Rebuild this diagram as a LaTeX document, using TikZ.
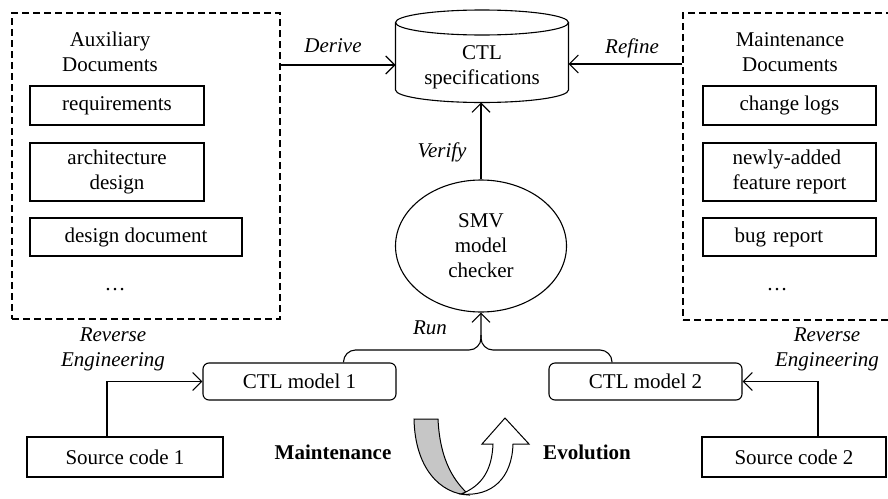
\documentclass[tikz,border=0pt]{standalone}
\usepackage{fontspec}
\setmainfont{Liberation Serif}
\usetikzlibrary{arrows.meta,shapes.geometric,calc}
\begin{document}
\begin{tikzpicture}[x=1pt,y=-1pt,line width=1.1pt,
  every node/.style={font=\fontsize{21}{25}\selectfont},
  docbox/.style={draw,rectangle,inner sep=0pt,align=center},
  rdocbox/.style={draw,rectangle,inner sep=0pt,minimum width=173pt,align=left},
  dashbox/.style={draw,rectangle,dash pattern=on 7pt off 4pt,inner sep=0pt},
  modelbox/.style={draw,rectangle,rounded corners=6pt,inner sep=0pt},
  lbl/.style={font=\fontsize{21}{25}\selectfont\itshape,align=center},
  bold/.style={font=\fontsize{21}{25}\selectfont\bfseries},
  arr/.style={-{Straight Barb[length=9pt,width=18pt,line width=1.1pt]}}]
\clip (0,0) rectangle (888,498);
\fill[white] (0,0) rectangle (888,498);

% dashed containers
\node[dashbox,minimum width=268pt,minimum height=306pt] (aux) at (146,166) {};
\node[dashbox,minimum width=210pt,minimum height=307pt] (maint) at (788,166.5) {};

\node[align=center] (auxt) at (110,52) {Auxiliary\\Documents};
\node[align=center] (maintt) at (790,52) {Maintenance\\Documents};

\node[docbox,minimum width=174pt,minimum height=39pt] (req) at (117,105.5) {requirements};
\node[docbox,minimum width=174pt,minimum height=58pt] (arch) at (117,172) {architecture\\design};
\node[docbox,minimum width=212pt,minimum height=38pt] (desdoc) at (136,237) {design document};
\node (dotsl) at (115,290) {\ldots};

\node[rdocbox,minimum height=39pt] (chg) at (789.5,105.5) {change logs};
\node[rdocbox,minimum height=58pt] (newly) at (789.5,172) {newly-added\\feature report};
\node[rdocbox,minimum height=38pt,inner xsep=31.5pt,text width=110pt] (bug) at (789.5,237) {bug report};
\node (dotsr) at (777,290) {\ldots};

% cylinder
\draw (482,22.5) ellipse [x radius=86.5pt,y radius=12.5pt];
\draw (395.5,22.5) -- (395.5,90) arc[start angle=180,end angle=360,x radius=86.5pt,y radius=12.5pt] -- (568.5,22.5);
\node[align=center] (spec) at (482,67) {CTL\\specifications};
\coordinate (specL) at (395.5,65);
\coordinate (specR) at (568.5,64);
\coordinate (specB) at (481,102.5);

% model checker
\node[draw,ellipse,minimum width=171pt,minimum height=132pt,inner sep=0pt,align=center] (smv) at (481,246) {SMV\\model\\checker};

% models and sources
\node[modelbox,minimum width=193pt,minimum height=37pt] (m1) at (299.5,381.5) {CTL model 1};
\node[modelbox,minimum width=193pt,minimum height=37pt] (m2) at (645.5,381.5) {CTL model 2};
\node[docbox,minimum width=196pt,minimum height=40pt] (sc1) at (125,457) {Source code 1};
\node[docbox,minimum width=184pt,minimum height=40pt] (sc2) at (794,457) {Source code 2};

% connectors
\draw[arr] (aux.east |- specL) -- (specL);
\draw[arr] (maint.west |- specR) -- (specR);
\draw[arr] (smv.north) -- (specB);

\coordinate (j) at (481,350);
\draw[arr,rounded corners=12pt] ($(m1.north)+(44,0)$) |- (j) -- (smv.south);
\draw[rounded corners=12pt] ($(m2.north)+(-33.5,0)$) |- (j) -- (481,335);

\draw[arr] ($(sc1.north)+(-18,0)$) |- (m1.west);
\draw[arr] ($(sc2.north)+(24,0)$) |- (m2.east);

% labels
\node[lbl] (lderive) at (333,46) {Derive};
\node[lbl] (lrefine) at (632,48) {Refine};
\node[lbl] (lverify) at (442,152) {Verify};
\node[lbl] (lrun) at (430,328) {Run};
\node[lbl] (lre1) at (113,349) {Reverse\\Engineering};
\node[lbl] (lre2) at (827,349) {Reverse\\Engineering};
\node[bold] (lmaint) at (333,452) {Maintenance};
\node[bold] (levol) at (587,452) {Evolution};

% U-turn arrow
\draw[fill=gray!45,line width=1pt] (414,419) .. controls (415,468) and (440,494) .. (469,495)
  .. controls (455,482) and (440,462) .. (438,419) -- cycle;
\draw[fill=white,line width=1pt] (461,494) .. controls (492,497) and (512,478) .. (513,444)
  -- (529,444) -- (505,418) -- (482,444) -- (493,444)
  .. controls (492,470) and (482,486) .. (461,494) -- cycle;
\end{tikzpicture}
\end{document}
